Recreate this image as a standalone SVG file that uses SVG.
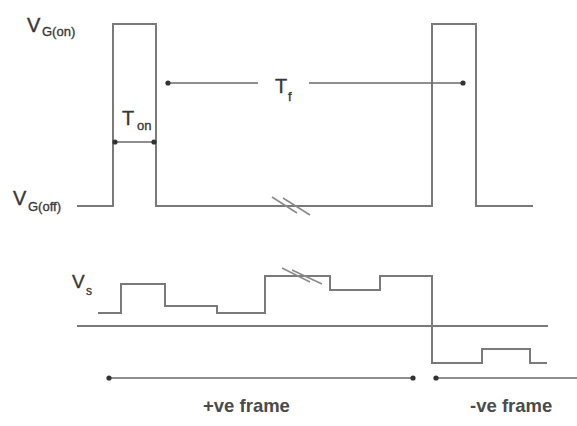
<svg xmlns="http://www.w3.org/2000/svg" width="577" height="426" viewBox="0 0 577 426">
  <style>
    .wave { fill: none; stroke: #7a7a7a; stroke-width: 2; stroke-linejoin: miter; }
    .dim { fill: none; stroke: #6a6a6a; stroke-width: 1.6; }
    .brk { fill: none; stroke: #8a8a8a; stroke-width: 1.5; }
    .lbl { font-family: "Liberation Sans", Arial, sans-serif; fill: #383838; stroke: #383838; stroke-width: 0.35; }
    .big { font-size: 20px; }
    .sub { font-size: 13px; }
    .frm { font-family: "Liberation Sans", Arial, sans-serif; font-size: 18.5px; font-weight: bold; fill: #4a4a4a; }
  </style>
  <defs>
    <marker id="dot" viewBox="0 0 6 6" refX="3" refY="3" markerWidth="6" markerHeight="6" markerUnits="userSpaceOnUse">
      <circle cx="3" cy="3" r="2.6" fill="#333"/>
    </marker>
  </defs>
  <rect width="577" height="426" fill="#ffffff"/>

  <g id="gate-waveform">
    <path class="wave" d="M77,206 H113 V24 H156 V206 H432 V24 H476 V206 H533"/>
    <g id="gate-break">
      <line class="brk" x1="272" y1="197" x2="297" y2="213"/>
      <line class="brk" x1="283" y1="198" x2="310" y2="215"/>
    </g>
  </g>

  <g id="label-vgon" class="lbl">
    <text class="big" x="27" y="32">V</text>
    <text class="sub" x="42" y="36">G(on)</text>
  </g>
  <g id="label-vgoff" class="lbl">
    <text class="big" x="13" y="205">V</text>
    <text class="sub" x="28" y="211">G(off)</text>
  </g>
  <g id="label-ton" class="lbl">
    <text class="big" x="122" y="125">T</text>
    <text class="sub" x="137" y="130">on</text>
  </g>
  <g id="label-tf" class="lbl">
    <text class="big" x="275" y="93">T</text>
    <text class="sub" x="288" y="101">f</text>
  </g>
  <g id="label-vs" class="lbl">
    <text class="big" x="72" y="288" style="font-size:19px">V</text>
    <text class="sub" x="86" y="295" style="font-size:12px">s</text>
  </g>

  <g id="source-waveform">
    <line class="wave" x1="77" y1="326" x2="548" y2="326"/>
    <path class="wave" d="M98,313 H121 V284 H165 V306 H217 V313 H265 V276 H330 V290 H380 V276 H432 V363 H482 V349 H530 V363 H547"/>
    <g id="source-break">
      <line class="brk" x1="282" y1="268" x2="310" y2="282"/>
      <line class="brk" x1="292" y1="270" x2="322" y2="284"/>
    </g>
  </g>

  <g id="connectors">
    <line class="dim" x1="115" y1="142" x2="154" y2="142" marker-start="url(#dot)" marker-end="url(#dot)"/>
    <line class="dim" x1="168" y1="83" x2="258" y2="83" marker-start="url(#dot)"/>
    <line class="dim" x1="309" y1="83" x2="463" y2="83" marker-end="url(#dot)"/>
    <line class="dim" x1="109" y1="378" x2="413" y2="378" marker-start="url(#dot)" marker-end="url(#dot)"/>
    <line class="dim" x1="436" y1="378" x2="577" y2="378" marker-start="url(#dot)"/>
  </g>

  <g id="label-pos-frame">
    <text class="frm" x="203" y="412">+ve frame</text>
  </g>
  <g id="label-neg-frame">
    <text class="frm" x="470" y="412">-ve frame</text>
  </g>
</svg>
